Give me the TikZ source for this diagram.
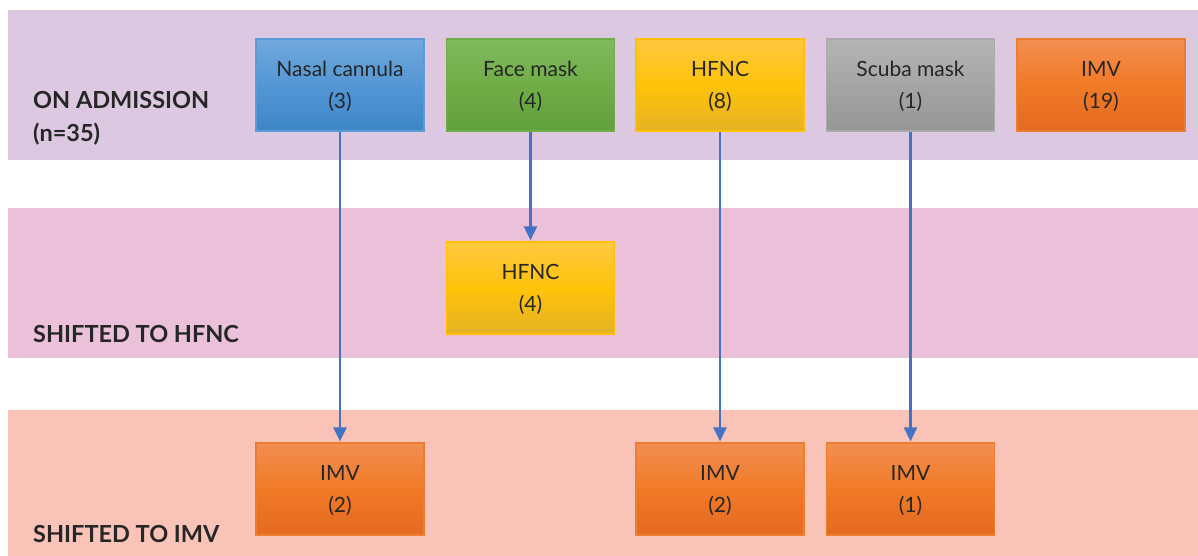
\documentclass[tikz,border=0pt]{standalone}
\usepackage{fontspec}
\setmainfont{Lato}
\usetikzlibrary{arrows.meta}
\definecolor{bandA}{RGB}{220,200,225}
\definecolor{bandB}{RGB}{234,193,217}
\definecolor{bandC}{RGB}{249,196,183}
\definecolor{txt}{RGB}{38,38,38}
\definecolor{arrblue}{RGB}{68,114,196}
\definecolor{blueT}{RGB}{112,168,221}
\definecolor{blueM}{RGB}{84,150,212}
\definecolor{blueB}{RGB}{62,134,200}
\definecolor{blueE}{RGB}{91,155,213}
\definecolor{greenT}{RGB}{127,186,94}
\definecolor{greenM}{RGB}{112,173,71}
\definecolor{greenB}{RGB}{98,160,62}
\definecolor{greenE}{RGB}{112,173,71}
\definecolor{yelT}{RGB}{255,200,64}
\definecolor{yelM}{RGB}{255,195,10}
\definecolor{yelB}{RGB}{228,178,36}
\definecolor{yelE}{RGB}{255,192,0}
\definecolor{grayT}{RGB}{180,180,180}
\definecolor{grayM}{RGB}{165,165,165}
\definecolor{grayB}{RGB}{150,150,150}
\definecolor{grayE}{RGB}{170,170,170}
\definecolor{orT}{RGB}{242,142,82}
\definecolor{orM}{RGB}{241,122,38}
\definecolor{orB}{RGB}{229,106,34}
\definecolor{orE}{RGB}{237,125,49}
\tikzset{
  box/.style={draw, line width=1.2pt, minimum width=168pt, minimum height=92pt,
    inner sep=0pt, align=center, text=txt, text depth=0pt, font=\fontsize{21}{32}\selectfont},
  bluebox/.style={box, draw=blueE, top color=blueT, bottom color=blueB, middle color=blueM},
  greenbox/.style={box, draw=greenE, top color=greenT, bottom color=greenB, middle color=greenM},
  yelbox/.style={box, draw=yelE, top color=yelT, bottom color=yelB, middle color=yelM},
  graybox/.style={box, draw=grayE, top color=grayT, bottom color=grayB, middle color=grayM},
  orbox/.style={box, draw=orE, top color=orT, bottom color=orB, middle color=orM},
  lbl/.style={anchor=west, align=left, inner sep=0pt, text=txt, font=\fontsize{23.5}{33}\selectfont\bfseries},
  arr/.style={draw=arrblue, line width=2.3pt, -{Triangle[width=13pt,length=14pt]}, shorten >=1pt}
}
\begin{document}
\begin{tikzpicture}[x=1pt,y=-1pt]
\useasboundingbox (0,0) rectangle (1198,556);
% bands
\fill[bandA] (8,10) rectangle (1198,160);
\fill[bandB] (8,208) rectangle (1198,358);
\fill[bandC] (8,410) rectangle (1198,556);
% labels
\node[lbl] (l1) at (33,118) {ON ADMISSION\\(n=35)};
\node[lbl] (l2) at (33,334) {SHIFTED TO HFNC};
\node[lbl] (l3) at (33,534) {SHIFTED TO IMV};
% row 1
\node[bluebox] (nc) at (340,85) {Nasal cannula\\(3)};
\node[greenbox] (fm) at (530.5,85) {Face mask\\(4)};
\node[yelbox] (hf) at (720,85) {HFNC\\(8)};
\node[graybox] (sc) at (910.5,85) {Scuba mask\\(1)};
\node[orbox] (imv) at (1101,85) {IMV\\(19)};
% row 2
\node[yelbox] (hf2) at (530.5,288) {HFNC\\(4)};
% row 3
\node[orbox] (imvA) at (340,489) {IMV\\(2)};
\node[orbox] (imvB) at (720,489) {IMV\\(2)};
\node[orbox] (imvC) at (910.5,489) {IMV\\(1)};
% arrows
\draw[arr] (nc.south) -- (imvA.north);
\draw[arr] (fm.south) -- (hf2.north);
\draw[arr] (hf.south) -- (imvB.north);
\draw[arr] (sc.south) -- (imvC.north);
\end{tikzpicture}
\end{document}
